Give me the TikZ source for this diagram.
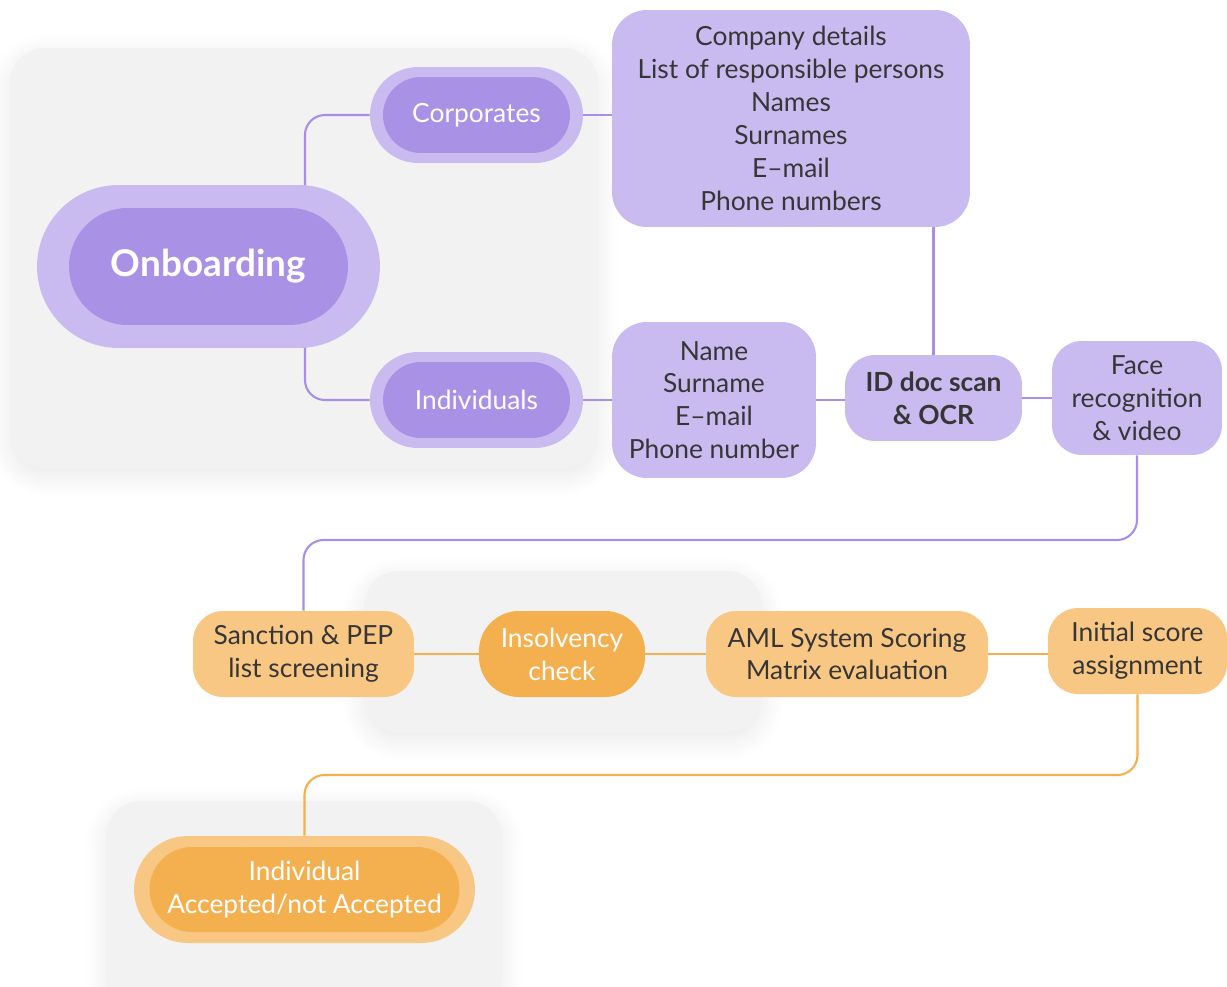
\documentclass[tikz,border=0pt]{standalone}
\usepackage{fontspec}
\setmainfont{Lato}
\usetikzlibrary{positioning}
\usetikzlibrary{calc}
\usetikzlibrary{shadows.blur}

\definecolor{lavlight}{HTML}{C9BBF0}
\definecolor{lavdark}{HTML}{A992E6}
\definecolor{lavstroke}{HTML}{A88EE8}
\definecolor{orlight}{HTML}{F9C784}
\definecolor{ordark}{HTML}{F4B04F}
\definecolor{panelgray}{HTML}{F2F2F2}
\definecolor{txtgray}{HTML}{363636}

\pgfdeclarelayer{panels}
\pgfdeclarelayer{links}
\pgfsetlayers{panels,links,main}

\tikzset{
  panel/.style={fill=panelgray, rounded corners=0.7cm,
    blur shadow={shadow xshift=0cm, shadow yshift=-0.15cm,
      shadow blur radius=0.45cm, shadow blur steps=12, shadow opacity=9}},
  box/.style={rectangle, rounded corners=0.6cm, align=center, inner sep=0pt,
    text=txtgray, font=\fontsize{15}{18.7}\selectfont},
  lavbox/.style={box, fill=lavlight},
  orbox/.style={box, fill=orlight},
  pill/.style={box, text=white},
  purpleconn/.style={draw=lavstroke, line width=1.2pt, rounded corners=0.4cm},
  orangeconn/.style={draw=ordark, line width=1.2pt, rounded corners=0.4cm},
}

\begin{document}
\begin{tikzpicture}[x=0.02cm,y=-0.02cm]
\useasboundingbox (0,0) rectangle (1227,987);

% onboarding pills
\node[pill, fill=lavlight, minimum width=6.86cm, minimum height=3.26cm,
  rounded corners=1.63cm] (onbout) at (208.5,266.5) {};
\node[pill, fill=lavdark, minimum width=5.58cm, minimum height=2.34cm,
  rounded corners=1.17cm, font=\bfseries\fontsize{21}{24}\selectfont] (onb) at (onbout) {Onboarding};

\node[pill, fill=lavlight, minimum width=4.26cm, minimum height=1.92cm,
  rounded corners=0.96cm] (corpout) at (476.5,115) {};
\node[pill, fill=lavdark, minimum width=3.74cm, minimum height=1.52cm,
  rounded corners=0.76cm] (corp) at (corpout) {Corporates};

\node[pill, fill=lavlight, minimum width=4.26cm, minimum height=1.92cm,
  rounded corners=0.96cm] (indout) at (476.5,400) {};
\node[pill, fill=lavdark, minimum width=3.74cm, minimum height=1.52cm,
  rounded corners=0.76cm] (ind) at (indout) {Individuals};

% data boxes
\node[lavbox, minimum width=7.16cm, minimum height=4.34cm, rounded corners=0.7cm]
  (company) at (791,118.5)
  {Company details\\List of responsible persons\\Names\\Surnames\\E--mail\\Phone numbers};
\node[lavbox, minimum width=4.08cm, minimum height=3.12cm, rounded corners=0.7cm]
  (name) at (714,400) {Name\\Surname\\E--mail\\Phone number};
\node[lavbox, minimum width=3.54cm, minimum height=1.72cm,
  font=\bfseries\fontsize{15}{18.7}\selectfont] (id) at (933.5,398) {ID doc scan\\\& OCR};
\node[lavbox, minimum width=3.4cm, minimum height=2.28cm] (face) at (1137,398)
  {Face\\recognition\\\& video};

% screening row
\node[orbox, minimum width=4.42cm, minimum height=1.72cm] (sanction) at (303.5,654)
  {Sanction \& PEP\\list screening};
\node[orbox, fill=ordark, text=white, minimum width=3.32cm, minimum height=1.72cm,
  rounded corners=0.8cm] (insol) at (562,654) {Insolvency\\check};
\node[orbox, minimum width=5.64cm, minimum height=1.72cm] (aml) at (847,654)
  {AML System Scoring\\Matrix evaluation};
\node[orbox, minimum width=3.58cm, minimum height=1.72cm] (init) at (1137.5,651)
  {Initial score\\assignment};

% result
\node[pill, fill=orlight, minimum width=6.82cm, minimum height=2.14cm,
  rounded corners=1.07cm] (accout) at (304.5,889.5) {};
\node[pill, fill=ordark, minimum width=6.2cm, minimum height=1.7cm,
  rounded corners=0.85cm] (acc) at (accout) {Individual\\Accepted/not Accepted};

\coordinate (turnA) at (0,540);
\coordinate (turnB) at (0,775);

% grey panels
\begin{pgfonlayer}{panels}
  \fill[panel] (10,48) rectangle (598,468);
  \fill[panel] (364,571) rectangle (762,732);
  \fill[panel] (106,801) rectangle (502,1010);
\end{pgfonlayer}

% connectors
\begin{pgfonlayer}{links}
  \draw[purpleconn] ([xshift=1.93cm]onbout.center) |- (corpout.west);
  \draw[purpleconn] ([xshift=1.93cm]onbout.center) |- (indout.west);
  \draw[purpleconn] (corpout.east) -- (corpout.east -| company.west);
  \draw[purpleconn] (indout.east) -- (indout.east -| name.west);
  \draw[purpleconn] (name.east) -- (name.east -| id.west);
  \draw[purpleconn] (id.east) -- (face.west);
  \draw[purpleconn] (company.south -| id.north) -- (id.north);
  \draw[purpleconn] (face.south) -- (face.south |- turnA) -| (sanction.north);

  \draw[orangeconn] (sanction.east) -- (insol.west);
  \draw[orangeconn] (insol.east) -- (aml.west);
  \draw[orangeconn] (aml.east) -- (aml.east -| init.west);
  \draw[orangeconn] (init.south) -- (init.south |- turnB) -| (accout.north);
\end{pgfonlayer}

\end{tikzpicture}
\end{document}
